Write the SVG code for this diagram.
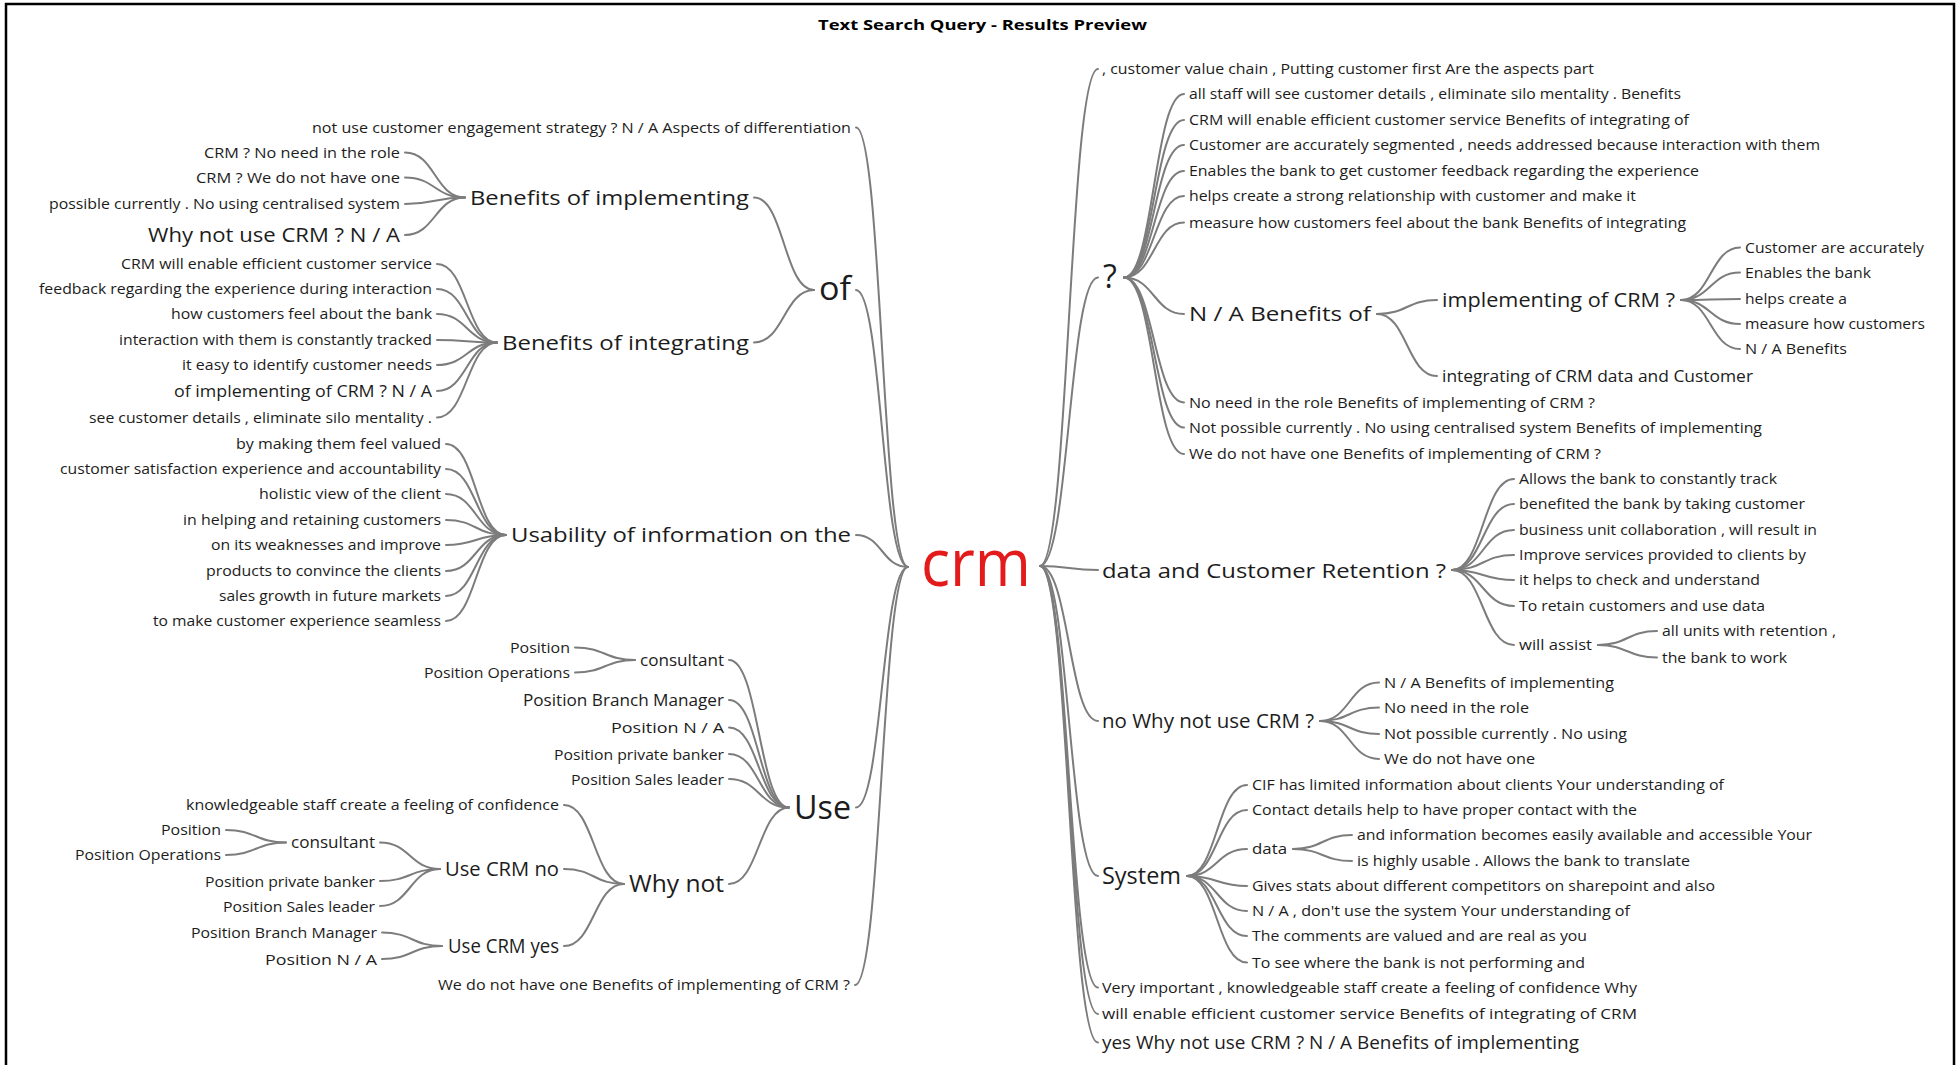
<svg xmlns="http://www.w3.org/2000/svg" width="1960" height="1065" viewBox="0 0 1960 1065">
<style>
text{font-family:"Open Sans","Noto Sans","Liberation Sans",sans-serif;fill:#1c1c1c}
.s{font-size:15px}
.s2{font-size:16.5px}
.s3{font-size:18px}
.m{font-size:20.5px}
.l{font-size:24px}
.xl{font-size:32px}
.crm{font-size:65px;fill:#e31b1b}
.title{font-size:15px;font-weight:bold;fill:#000}
#connectors path{fill:none;stroke:#7c7c7c;stroke-width:2;stroke-linecap:round}
</style>
<rect x="0" y="0" width="1960" height="1065" fill="#fff"/>
<rect x="6" y="4" width="1948" height="1090" fill="none" stroke="#000" stroke-width="2.5"/>
<g id="title"><text class="title" x="818" y="30" textLength="329" lengthAdjust="spacingAndGlyphs">Text Search Query - Results Preview</text></g>

<g id="connectors">
<path d="M856 127.5 C882 127.5 882 567 908 567"/>
<path d="M856 290 C882 290 882 567 908 567"/>
<path d="M856 535 C882 535 882 567 908 567"/>
<path d="M856 807.5 C882 807.5 882 567 908 567"/>
<path d="M855 985 C881.5 985 881.5 567 908 567"/>
<path d="M754 197.5 C784 197.5 784 290 814 290"/>
<path d="M754 342.5 C784 342.5 784 290 814 290"/>
<path d="M405 152.5 C435 152.5 435 197.5 465 197.5"/>
<path d="M405 177.5 C435 177.5 435 197.5 465 197.5"/>
<path d="M405 204 C435 204 435 197.5 465 197.5"/>
<path d="M405 235 C435 235 435 197.5 465 197.5"/>
<path d="M437 264 C467 264 467 342.5 497 342.5"/>
<path d="M437 289 C467 289 467 342.5 497 342.5"/>
<path d="M437 314 C467 314 467 342.5 497 342.5"/>
<path d="M437 340 C467 340 467 342.5 497 342.5"/>
<path d="M437 365 C467 365 467 342.5 497 342.5"/>
<path d="M437 391 C467 391 467 342.5 497 342.5"/>
<path d="M437 417.5 C467 417.5 467 342.5 497 342.5"/>
<path d="M446 444 C476 444 476 535 506 535"/>
<path d="M446 469 C476 469 476 535 506 535"/>
<path d="M446 494 C476 494 476 535 506 535"/>
<path d="M446 520 C476 520 476 535 506 535"/>
<path d="M446 545 C476 545 476 535 506 535"/>
<path d="M446 571 C476 571 476 535 506 535"/>
<path d="M446 596 C476 596 476 535 506 535"/>
<path d="M446 621 C476 621 476 535 506 535"/>
<path d="M729 660 C759 660 759 807.5 789 807.5"/>
<path d="M729 700 C759 700 759 807.5 789 807.5"/>
<path d="M729 727.5 C759 727.5 759 807.5 789 807.5"/>
<path d="M729 754 C759 754 759 807.5 789 807.5"/>
<path d="M729 779 C759 779 759 807.5 789 807.5"/>
<path d="M729 884 C759 884 759 807.5 789 807.5"/>
<path d="M575 647.5 C605 647.5 605 660 635 660"/>
<path d="M575 672.5 C605 672.5 605 660 635 660"/>
<path d="M564 805 C594 805 594 884 624 884"/>
<path d="M564 869 C594 869 594 884 624 884"/>
<path d="M564 946 C594 946 594 884 624 884"/>
<path d="M380 842.5 C410 842.5 410 869 440 869"/>
<path d="M380 881 C410 881 410 869 440 869"/>
<path d="M380 906 C410 906 410 869 440 869"/>
<path d="M226 830 C256 830 256 842.5 286 842.5"/>
<path d="M226 855 C256 855 256 842.5 286 842.5"/>
<path d="M382 932.5 C412 932.5 412 946 442 946"/>
<path d="M382 959 C412 959 412 946 442 946"/>

<path d="M1040 566 C1069 566 1069 69 1098 69"/>
<path d="M1040 566 C1069 566 1069 277.5 1098 277.5"/>
<path d="M1040 566 C1069 566 1069 570 1098 570"/>
<path d="M1040 566 C1069 566 1069 721 1098 721"/>
<path d="M1040 566 C1069 566 1069 876 1098 876"/>
<path d="M1040 566 C1069 566 1069 987.5 1098 987.5"/>
<path d="M1040 566 C1069 566 1069 1014 1098 1014"/>
<path d="M1040 566 C1069 566 1069 1042.5 1098 1042.5"/>
<path d="M1124 277.5 C1154 277.5 1154 94 1184 94"/>
<path d="M1124 277.5 C1154 277.5 1154 120 1184 120"/>
<path d="M1124 277.5 C1154 277.5 1154 145 1184 145"/>
<path d="M1124 277.5 C1154 277.5 1154 171 1184 171"/>
<path d="M1124 277.5 C1154 277.5 1154 196 1184 196"/>
<path d="M1124 277.5 C1154 277.5 1154 222.5 1184 222.5"/>
<path d="M1124 277.5 C1154 277.5 1154 314 1184 314"/>
<path d="M1124 277.5 C1154 277.5 1154 402.5 1184 402.5"/>
<path d="M1124 277.5 C1154 277.5 1154 427.5 1184 427.5"/>
<path d="M1124 277.5 C1154 277.5 1154 454 1184 454"/>
<path d="M1377 314 C1407 314 1407 300 1437 300"/>
<path d="M1377 314 C1407 314 1407 376 1437 376"/>
<path d="M1681 300 C1710.5 300 1710.5 247.5 1740 247.5"/>
<path d="M1681 300 C1710.5 300 1710.5 272.5 1740 272.5"/>
<path d="M1681 300 C1710.5 300 1710.5 299 1740 299"/>
<path d="M1681 300 C1710.5 300 1710.5 324 1740 324"/>
<path d="M1681 300 C1710.5 300 1710.5 349 1740 349"/>
<path d="M1452 570 C1483 570 1483 479 1514 479"/>
<path d="M1452 570 C1483 570 1483 504 1514 504"/>
<path d="M1452 570 C1483 570 1483 530 1514 530"/>
<path d="M1452 570 C1483 570 1483 555 1514 555"/>
<path d="M1452 570 C1483 570 1483 580 1514 580"/>
<path d="M1452 570 C1483 570 1483 606 1514 606"/>
<path d="M1452 570 C1483 570 1483 645 1514 645"/>
<path d="M1598 645 C1627.5 645 1627.5 631 1657 631"/>
<path d="M1598 645 C1627.5 645 1627.5 657.5 1657 657.5"/>
<path d="M1320 721 C1349.5 721 1349.5 682.5 1379 682.5"/>
<path d="M1320 721 C1349.5 721 1349.5 707.5 1379 707.5"/>
<path d="M1320 721 C1349.5 721 1349.5 734 1379 734"/>
<path d="M1320 721 C1349.5 721 1349.5 759 1379 759"/>
<path d="M1187 876 C1217 876 1217 785 1247 785"/>
<path d="M1187 876 C1217 876 1217 810 1247 810"/>
<path d="M1187 876 C1217 876 1217 849 1247 849"/>
<path d="M1187 876 C1217 876 1217 886 1247 886"/>
<path d="M1187 876 C1217 876 1217 911 1247 911"/>
<path d="M1187 876 C1217 876 1217 936 1247 936"/>
<path d="M1187 876 C1217 876 1217 962.5 1247 962.5"/>
<path d="M1293 849 C1322.5 849 1322.5 835 1352 835"/>
<path d="M1293 849 C1322.5 849 1322.5 861 1352 861"/>
</g>

<g id="n-crm"><text class="crm" x="921" y="586" textLength="110" lengthAdjust="spacingAndGlyphs">crm</text></g>

<!-- Left side -->
<g id="n-l1"><text class="s" x="312" y="132.5" textLength="539" lengthAdjust="spacingAndGlyphs">not use customer engagement strategy ? N / A Aspects of differentiation</text></g>
<g id="n-of"><text class="xl" x="819" y="300" textLength="32" lengthAdjust="spacingAndGlyphs">of</text></g>
<g id="n-boimp"><text class="m" x="470" y="205" textLength="279" lengthAdjust="spacingAndGlyphs">Benefits of implementing</text></g>
<g id="n-boimp-1"><text class="s" x="204" y="157.5" textLength="196" lengthAdjust="spacingAndGlyphs">CRM ? No need in the role</text></g>
<g id="n-boimp-2"><text class="s" x="196" y="182.5" textLength="204" lengthAdjust="spacingAndGlyphs">CRM ? We do not have one</text></g>
<g id="n-boimp-3"><text class="s" x="49" y="209" textLength="351" lengthAdjust="spacingAndGlyphs">possible currently . No using centralised system</text></g>
<g id="n-boimp-4"><text class="m" x="148" y="242" textLength="252" lengthAdjust="spacingAndGlyphs">Why not use CRM ? N / A</text></g>
<g id="n-boint"><text class="m" x="502" y="350" textLength="247" lengthAdjust="spacingAndGlyphs">Benefits of integrating</text></g>
<g id="n-boint-1"><text class="s" x="121" y="269" textLength="311" lengthAdjust="spacingAndGlyphs">CRM will enable efficient customer service</text></g>
<g id="n-boint-2"><text class="s" x="39" y="294" textLength="393" lengthAdjust="spacingAndGlyphs">feedback regarding the experience during interaction</text></g>
<g id="n-boint-3"><text class="s" x="171" y="319" textLength="261" lengthAdjust="spacingAndGlyphs">how customers feel about the bank</text></g>
<g id="n-boint-4"><text class="s" x="119" y="345" textLength="313" lengthAdjust="spacingAndGlyphs">interaction with them is constantly tracked</text></g>
<g id="n-boint-5"><text class="s" x="182" y="370" textLength="250" lengthAdjust="spacingAndGlyphs">it easy to identify customer needs</text></g>
<g id="n-boint-6"><text class="s2" x="174" y="397" textLength="258" lengthAdjust="spacingAndGlyphs">of implementing of CRM ? N / A</text></g>
<g id="n-boint-7"><text class="s" x="89" y="422.5" textLength="343" lengthAdjust="spacingAndGlyphs">see customer details , eliminate silo mentality .</text></g>
<g id="n-usab"><text class="m" x="511" y="542" textLength="340" lengthAdjust="spacingAndGlyphs">Usability of information on the</text></g>
<g id="n-usab-1"><text class="s" x="236" y="449" textLength="205" lengthAdjust="spacingAndGlyphs">by making them feel valued</text></g>
<g id="n-usab-2"><text class="s" x="60" y="474" textLength="381" lengthAdjust="spacingAndGlyphs">customer satisfaction experience and accountability</text></g>
<g id="n-usab-3"><text class="s" x="259" y="499" textLength="182" lengthAdjust="spacingAndGlyphs">holistic view of the client</text></g>
<g id="n-usab-4"><text class="s" x="183" y="525" textLength="258" lengthAdjust="spacingAndGlyphs">in helping and retaining customers</text></g>
<g id="n-usab-5"><text class="s" x="211" y="550" textLength="230" lengthAdjust="spacingAndGlyphs">on its weaknesses and improve</text></g>
<g id="n-usab-6"><text class="s" x="206" y="576" textLength="235" lengthAdjust="spacingAndGlyphs">products to convince the clients</text></g>
<g id="n-usab-7"><text class="s" x="219" y="601" textLength="222" lengthAdjust="spacingAndGlyphs">sales growth in future markets</text></g>
<g id="n-usab-8"><text class="s" x="153" y="626" textLength="288" lengthAdjust="spacingAndGlyphs">to make customer experience seamless</text></g>
<g id="n-use"><text class="xl" x="794" y="819" textLength="57" lengthAdjust="spacingAndGlyphs">Use</text></g>
<g id="n-use-cons"><text class="s2" x="640" y="666" textLength="84" lengthAdjust="spacingAndGlyphs">consultant</text></g>
<g id="n-use-cons-1"><text class="s" x="510" y="652.5" textLength="60" lengthAdjust="spacingAndGlyphs">Position</text></g>
<g id="n-use-cons-2"><text class="s" x="424" y="677.5" textLength="146" lengthAdjust="spacingAndGlyphs">Position Operations</text></g>
<g id="n-use-pbm"><text class="s2" x="523" y="705.5" textLength="201" lengthAdjust="spacingAndGlyphs">Position Branch Manager</text></g>
<g id="n-use-pna"><text class="s" x="611" y="733" textLength="113" lengthAdjust="spacingAndGlyphs">Position N / A</text></g>
<g id="n-use-ppb"><text class="s" x="554" y="759.5" textLength="170" lengthAdjust="spacingAndGlyphs">Position private banker</text></g>
<g id="n-use-psl"><text class="s" x="571" y="784.5" textLength="153" lengthAdjust="spacingAndGlyphs">Position Sales leader</text></g>
<g id="n-whynot"><text class="l" x="629" y="892" textLength="95" lengthAdjust="spacingAndGlyphs">Why not</text></g>
<g id="n-whynot-1"><text class="s" x="186" y="810" textLength="373" lengthAdjust="spacingAndGlyphs">knowledgeable staff create a feeling of confidence</text></g>
<g id="n-ucno"><text class="m" x="445" y="876" textLength="114" lengthAdjust="spacingAndGlyphs">Use CRM no</text></g>
<g id="n-ucno-cons"><text class="s2" x="291" y="848" textLength="84" lengthAdjust="spacingAndGlyphs">consultant</text></g>
<g id="n-ucno-cons-1"><text class="s" x="161" y="835" textLength="60" lengthAdjust="spacingAndGlyphs">Position</text></g>
<g id="n-ucno-cons-2"><text class="s" x="75" y="860" textLength="146" lengthAdjust="spacingAndGlyphs">Position Operations</text></g>
<g id="n-ucno-ppb"><text class="s" x="205" y="886.5" textLength="170" lengthAdjust="spacingAndGlyphs">Position private banker</text></g>
<g id="n-ucno-psl"><text class="s" x="223" y="911.5" textLength="152" lengthAdjust="spacingAndGlyphs">Position Sales leader</text></g>
<g id="n-ucyes"><text class="m" x="448" y="953" textLength="111" lengthAdjust="spacingAndGlyphs">Use CRM yes</text></g>
<g id="n-ucyes-pbm"><text class="s" x="191" y="938" textLength="186" lengthAdjust="spacingAndGlyphs">Position Branch Manager</text></g>
<g id="n-ucyes-pna"><text class="s" x="265" y="964.5" textLength="112" lengthAdjust="spacingAndGlyphs">Position N / A</text></g>
<g id="n-l5"><text class="s" x="438" y="990" textLength="412" lengthAdjust="spacingAndGlyphs">We do not have one Benefits of implementing of CRM ?</text></g>

<!-- Right side -->
<g id="n-r1"><text class="s" x="1102" y="74" textLength="492" lengthAdjust="spacingAndGlyphs">, customer value chain , Putting customer first Are the aspects part</text></g>
<g id="n-q"><text class="xl" x="1103" y="288">?</text></g>
<g id="n-q-1"><text class="s" x="1189" y="99" textLength="492" lengthAdjust="spacingAndGlyphs">all staff will see customer details , eliminate silo mentality . Benefits</text></g>
<g id="n-q-2"><text class="s" x="1189" y="125" textLength="500" lengthAdjust="spacingAndGlyphs">CRM will enable efficient customer service Benefits of integrating of</text></g>
<g id="n-q-3"><text class="s" x="1189" y="150" textLength="631" lengthAdjust="spacingAndGlyphs">Customer are accurately segmented , needs addressed because interaction with them</text></g>
<g id="n-q-4"><text class="s" x="1189" y="176" textLength="510" lengthAdjust="spacingAndGlyphs">Enables the bank to get customer feedback regarding the experience</text></g>
<g id="n-q-5"><text class="s" x="1189" y="201" textLength="447" lengthAdjust="spacingAndGlyphs">helps create a strong relationship with customer and make it</text></g>
<g id="n-q-6"><text class="s" x="1189" y="227.5" textLength="497" lengthAdjust="spacingAndGlyphs">measure how customers feel about the bank Benefits of integrating</text></g>
<g id="n-nab"><text class="m" x="1189" y="321" textLength="182" lengthAdjust="spacingAndGlyphs">N / A Benefits of</text></g>
<g id="n-impl"><text class="m" x="1442" y="307" textLength="233" lengthAdjust="spacingAndGlyphs">implementing of CRM ?</text></g>
<g id="n-impl-1"><text class="s" x="1745" y="252.5" textLength="179" lengthAdjust="spacingAndGlyphs">Customer are accurately</text></g>
<g id="n-impl-2"><text class="s" x="1745" y="277.5" textLength="126" lengthAdjust="spacingAndGlyphs">Enables the bank</text></g>
<g id="n-impl-3"><text class="s" x="1745" y="304" textLength="102" lengthAdjust="spacingAndGlyphs">helps create a</text></g>
<g id="n-impl-4"><text class="s" x="1745" y="329" textLength="180" lengthAdjust="spacingAndGlyphs">measure how customers</text></g>
<g id="n-impl-5"><text class="s" x="1745" y="354" textLength="102" lengthAdjust="spacingAndGlyphs">N / A Benefits</text></g>
<g id="n-integ"><text class="s2" x="1442" y="382" textLength="311" lengthAdjust="spacingAndGlyphs">integrating of CRM data and Customer</text></g>
<g id="n-q-7"><text class="s" x="1189" y="407.5" textLength="406" lengthAdjust="spacingAndGlyphs">No need in the role Benefits of implementing of CRM ?</text></g>
<g id="n-q-8"><text class="s" x="1189" y="432.5" textLength="573" lengthAdjust="spacingAndGlyphs">Not possible currently . No using centralised system Benefits of implementing</text></g>
<g id="n-q-9"><text class="s" x="1189" y="459" textLength="412" lengthAdjust="spacingAndGlyphs">We do not have one Benefits of implementing of CRM ?</text></g>
<g id="n-dcr"><text class="m" x="1102" y="578" textLength="344" lengthAdjust="spacingAndGlyphs">data and Customer Retention ?</text></g>
<g id="n-dcr-1"><text class="s" x="1519" y="484" textLength="258" lengthAdjust="spacingAndGlyphs">Allows the bank to constantly track</text></g>
<g id="n-dcr-2"><text class="s" x="1519" y="509" textLength="286" lengthAdjust="spacingAndGlyphs">benefited the bank by taking customer</text></g>
<g id="n-dcr-3"><text class="s" x="1519" y="535" textLength="298" lengthAdjust="spacingAndGlyphs">business unit collaboration , will result in</text></g>
<g id="n-dcr-4"><text class="s" x="1519" y="560" textLength="287" lengthAdjust="spacingAndGlyphs">Improve services provided to clients by</text></g>
<g id="n-dcr-5"><text class="s" x="1519" y="585" textLength="241" lengthAdjust="spacingAndGlyphs">it helps to check and understand</text></g>
<g id="n-dcr-6"><text class="s" x="1519" y="611" textLength="246" lengthAdjust="spacingAndGlyphs">To retain customers and use data</text></g>
<g id="n-assist"><text class="s" x="1519" y="650" textLength="73" lengthAdjust="spacingAndGlyphs">will assist</text></g>
<g id="n-assist-1"><text class="s" x="1662" y="636" textLength="174" lengthAdjust="spacingAndGlyphs">all units with retention ,</text></g>
<g id="n-assist-2"><text class="s" x="1662" y="662.5" textLength="125" lengthAdjust="spacingAndGlyphs">the bank to work</text></g>
<g id="n-nowhy"><text class="m" x="1102" y="728" textLength="212" lengthAdjust="spacingAndGlyphs">no Why not use CRM ?</text></g>
<g id="n-nowhy-1"><text class="s" x="1384" y="687.5" textLength="230" lengthAdjust="spacingAndGlyphs">N / A Benefits of implementing</text></g>
<g id="n-nowhy-2"><text class="s" x="1384" y="712.5" textLength="145" lengthAdjust="spacingAndGlyphs">No need in the role</text></g>
<g id="n-nowhy-3"><text class="s" x="1384" y="739" textLength="243" lengthAdjust="spacingAndGlyphs">Not possible currently . No using</text></g>
<g id="n-nowhy-4"><text class="s" x="1384" y="764" textLength="151" lengthAdjust="spacingAndGlyphs">We do not have one</text></g>
<g id="n-system"><text class="l" x="1102" y="884" textLength="79" lengthAdjust="spacingAndGlyphs">System</text></g>
<g id="n-sys-1"><text class="s" x="1252" y="790" textLength="472" lengthAdjust="spacingAndGlyphs">CIF has limited information about clients Your understanding of</text></g>
<g id="n-sys-2"><text class="s" x="1252" y="815" textLength="385" lengthAdjust="spacingAndGlyphs">Contact details help to have proper contact with the</text></g>
<g id="n-sys-data"><text class="s" x="1252" y="854" textLength="35" lengthAdjust="spacingAndGlyphs">data</text></g>
<g id="n-data-1"><text class="s" x="1357" y="840" textLength="455" lengthAdjust="spacingAndGlyphs">and information becomes easily available and accessible Your</text></g>
<g id="n-data-2"><text class="s" x="1357" y="866" textLength="333" lengthAdjust="spacingAndGlyphs">is highly usable . Allows the bank to translate</text></g>
<g id="n-sys-3"><text class="s" x="1252" y="891" textLength="463" lengthAdjust="spacingAndGlyphs">Gives stats about different competitors on sharepoint and also</text></g>
<g id="n-sys-4"><text class="s" x="1252" y="916" textLength="378" lengthAdjust="spacingAndGlyphs">N / A , don't use the system Your understanding of</text></g>
<g id="n-sys-5"><text class="s" x="1252" y="941" textLength="335" lengthAdjust="spacingAndGlyphs">The comments are valued and are real as you</text></g>
<g id="n-sys-6"><text class="s" x="1252" y="967.5" textLength="333" lengthAdjust="spacingAndGlyphs">To see where the bank is not performing and</text></g>
<g id="n-r6"><text class="s" x="1102" y="992.5" textLength="535" lengthAdjust="spacingAndGlyphs">Very important , knowledgeable staff create a feeling of confidence Why</text></g>
<g id="n-r7"><text class="s" x="1102" y="1019" textLength="535" lengthAdjust="spacingAndGlyphs">will enable efficient customer service Benefits of integrating of CRM</text></g>
<g id="n-r8"><text class="s3" x="1102" y="1049" textLength="477" lengthAdjust="spacingAndGlyphs">yes Why not use CRM ? N / A Benefits of implementing</text></g>
</svg>
